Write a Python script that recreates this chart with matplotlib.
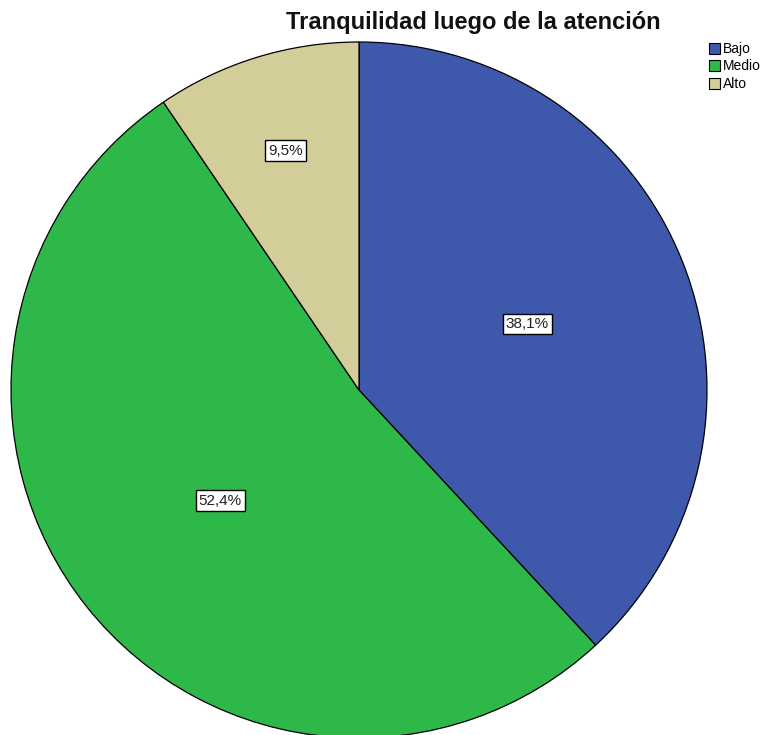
import matplotlib
matplotlib.use("Agg")
import matplotlib.pyplot as plt
from matplotlib.patches import Patch
import numpy as np

plt.rcParams['font.family'] = ['Liberation Sans', 'DejaVu Sans']

# percentages per level of tranquility
categories = ["Bajo", "Medio", "Alto"]
shares = [38.1, 52.4, 9.5]
colors = ["#3e58ac", "#2eb84a", "#d3cd99"]
label_dist = [0.52, 0.51, 0.72]

W, H = 771, 735
fig = plt.figure(figsize=(W / 100, H / 100), dpi=100)
ax = fig.add_axes([0, 0, 1, 1])

cx, cy, r = 359, -390, 348
wedges, _ = ax.pie(shares, colors=colors, startangle=90, counterclock=False,
                   center=(cx, cy), radius=r, frame=True,
                   wedgeprops=dict(edgecolor='black', linewidth=0.9))
ax.set_xlim(0, W)
ax.set_ylim(-H, 0)
ax.set_aspect('equal')
ax.axis('off')

for w, val, d in zip(wedges, shares, label_dist):
    mid = np.deg2rad((w.theta1 + w.theta2) / 2)
    x = cx + d * r * np.cos(mid)
    y = cy + d * r * np.sin(mid)
    ax.text(x, y, f"{val:.1f}%".replace('.', ','), ha='center', va='center',
            fontsize=11, color='#222222',
            bbox=dict(boxstyle='square,pad=0.2', fc='white', ec='black', lw=1.0))

fig.text(473 / W, 1 - 23 / H, "Tranquilidad luego de la atención",
         ha='center', va='center', fontsize=17, fontweight='bold', color='#111111')

handles = [Patch(facecolor=c, edgecolor='black', linewidth=0.8) for c in colors]
fig.legend(handles, categories, loc='upper left', bbox_to_anchor=(709 / W, 1 - 42 / H),
           frameon=False, fontsize=10, handlelength=0.8, handleheight=0.85,
           handletextpad=0.2, labelspacing=0.25, borderpad=0, borderaxespad=0)

fig.savefig("out.png", dpi=100)
